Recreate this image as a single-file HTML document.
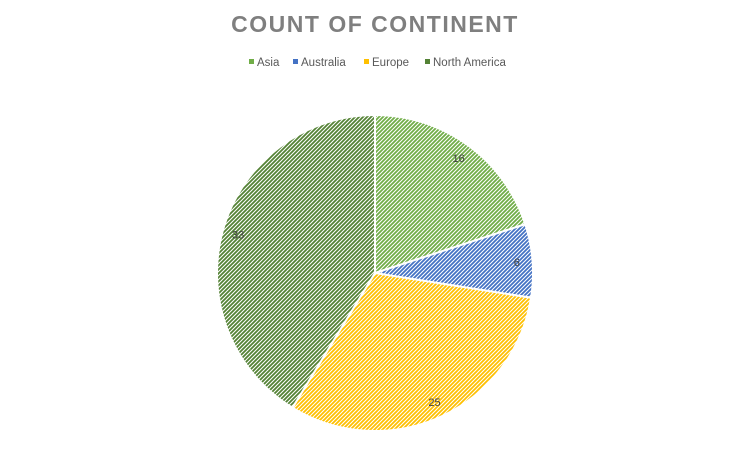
<!DOCTYPE html>
<html><head><meta charset="utf-8"><style>
body{margin:0;background:#fff;}
svg{display:block;font-family:"Liberation Sans",sans-serif;}
</style></head><body>
<svg id="c" width="750" height="474" viewBox="0 0 750 474">
<defs id="defs"></defs>
<text x="375" y="32" text-anchor="middle" font-size="23" font-weight="bold" fill="#7f7f7f" letter-spacing="1.5">COUNT OF CONTINENT</text>
<g id="legend"></g>
<g id="slices"></g>
<g id="labels"></g>
</svg>
<script>
const categories=["Asia","Australia","Europe","North America"];
const values=[16,6,25,33];
const colors=["#70ad47","#4472c4","#ffc000","#548235"];
const NS="http://www.w3.org/2000/svg";
const cx=375,cy=273,r=158;
const defs=document.getElementById('defs');
colors.forEach((col,i)=>{
  const p=document.createElementNS(NS,'pattern');
  p.setAttribute('id','h'+i);p.setAttribute('width','4');p.setAttribute('height','4');
  p.setAttribute('patternUnits','userSpaceOnUse');
  p.innerHTML=`<rect width="4" height="4" fill="#fff"/><path d="M-1,1L1,-1M0,4L4,0M3,5L5,3" stroke="${col}" stroke-width="1.8"/>`;
  defs.appendChild(p);
});
const total=values.reduce((a,b)=>a+b,0);
let a0=-Math.PI/2;
const sg=document.getElementById('slices'),lg=document.getElementById('labels');
values.forEach((v,i)=>{
  const a1=a0+v/total*2*Math.PI;
  const x0=cx+r*Math.cos(a0),y0=cy+r*Math.sin(a0),x1=cx+r*Math.cos(a1),y1=cy+r*Math.sin(a1);
  const large=(a1-a0)>Math.PI?1:0;
  const path=document.createElementNS(NS,'path');
  path.setAttribute('d',`M${cx},${cy}L${x0},${y0}A${r},${r} 0 ${large} 1 ${x1},${y1}Z`);
  path.setAttribute('fill',`url(#h${i})`);
  path.setAttribute('stroke','#fff');path.setAttribute('stroke-width','2');
  
  
  sg.appendChild(path);
  const am=(a0+a1)/2,lr=r*0.9;
  const t=document.createElementNS(NS,'text');
  t.setAttribute('x',cx+lr*Math.cos(am));t.setAttribute('y',cy+lr*Math.sin(am)+4);
  t.setAttribute('text-anchor','middle');t.setAttribute('font-size','11');t.setAttribute('fill','#404040');
  t.textContent=v;
  
  
  lg.appendChild(t);
  a0=a1;
});
const leg=document.getElementById('legend');
const lx=[249,293,364,425];
categories.forEach((c,i)=>{
  const g=document.createElementNS(NS,'g');
  
  
  g.innerHTML=`<rect x="${lx[i]}" y="59" width="5" height="5" fill="${colors[i]}"/><text x="${lx[i]+8}" y="66" font-size="11.5" fill="#595959">${c}</text>`;
  leg.appendChild(g);
});
</script>
</body></html>
